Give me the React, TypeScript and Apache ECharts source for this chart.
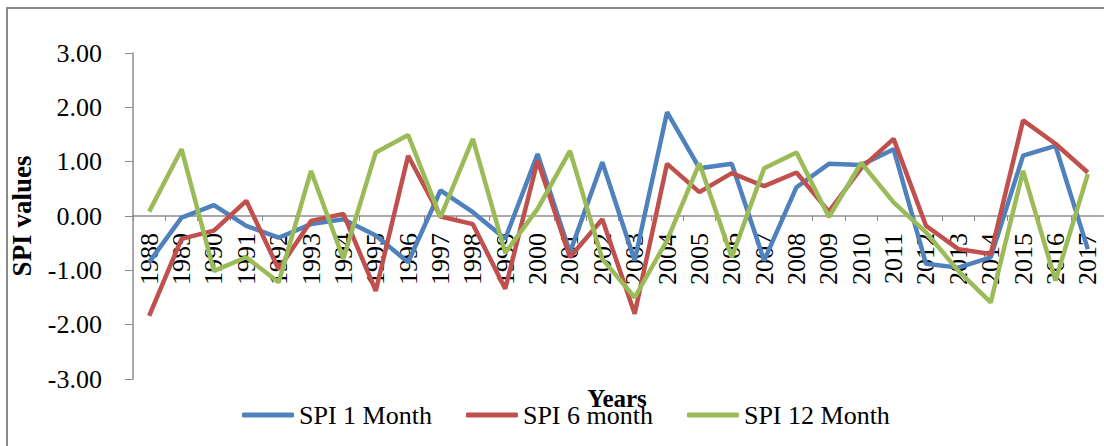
import React, { useEffect, useRef } from "react";
import * as echarts from "echarts";

const years = [
  "1988", "1989", "1990", "1991", "1992", "1993", "1994", "1995", "1996", "1997",
  "1998", "1999", "2000", "2001", "2002", "2003", "2004", "2005", "2006", "2007",
  "2008", "2009", "2010", "2011", "2012", "2013", "2014", "2015", "2016", "2017",
];

const spi1 = [
  -0.85, -0.03, 0.2, -0.18, -0.4, -0.15, -0.06, -0.36, -0.85, 0.47,
  0.07, -0.42, 1.14, -0.67, 0.99, -0.82, 1.91, 0.88, 0.96, -0.82,
  0.53, 0.96, 0.94, 1.23, -0.88, -0.95, -0.76, 1.11, 1.29, -0.61,
];

const spi6 = [
  -1.84, -0.42, -0.27, 0.28, -0.98, -0.09, 0.04, -1.38, 1.11, -0.01,
  -0.15, -1.34, 1.02, -0.76, -0.06, -1.8, 0.96, 0.44, 0.79, 0.55,
  0.8, 0.08, 0.88, 1.42, -0.18, -0.61, -0.7, 1.76, 1.33, 0.8,
];

const spi12 = [
  0.08, 1.23, -1.01, -0.76, -1.22, 0.83, -0.79, 1.17, 1.49, -0.02,
  1.42, -0.68, 0.13, 1.2, -0.79, -1.5, -0.45, 0.97, -0.76, 0.88,
  1.17, -0.02, 0.98, 0.25, -0.3, -1.01, -1.59, 0.83, -1.19, 0.77,
];

const seriesNames = ["SPI 1 Month", "SPI 6 month", "SPI 12 Month"];
const seriesColors = ["#4F81BD", "#C0504D", "#9BBB59"];

const FONT = "'Liberation Serif', serif";

export default function App() {
  const ref = useRef<HTMLDivElement>(null);

  useEffect(() => {
    if (!ref.current) return;
    const chart = echarts.init(ref.current, null, { renderer: "svg" });
    const data = [spi1, spi6, spi12];
    chart.setOption({
      animation: false,
      backgroundColor: "#ffffff",
      textStyle: { fontFamily: FONT },
      grid: { left: 125, right: -3, top: 53, bottom: 67 },
      legend: {
        left: 237,
        top: 397,
        itemWidth: 52,
        itemHeight: 5,
        itemGap: 34,
        icon: "roundRect",
        data: seriesNames,
        textStyle: { fontFamily: FONT, fontSize: 26, fontWeight: "normal", color: "#000" },
      },
      xAxis: {
        type: "category",
        data: years,
        boundaryGap: true,
        position: "bottom",
        offset: -163,
        axisLine: { onZero: false, lineStyle: { color: "#8c8c8c", width: 1.5 } },
        axisTick: { show: true, length: 5, interval: 0, lineStyle: { color: "#8c8c8c" } },
        axisLabel: {
          interval: 0,
          rotate: 90,
          margin: 17,
          fontSize: 26,
          fontFamily: FONT,
          fontWeight: "normal",
          color: "#000",
        },
        splitLine: { show: false },
      },
      yAxis: {
        type: "value",
        min: -3,
        max: 3,
        interval: 1,
        name: "SPI values",
        nameLocation: "middle",
        nameGap: 98,
        nameTextStyle: { fontFamily: FONT, fontSize: 27, fontWeight: "bold", color: "#000" },
        axisLine: { show: true, lineStyle: { color: "#8c8c8c", width: 1.5 } },
        axisTick: { show: true, length: 8, lineStyle: { color: "#8c8c8c" } },
        axisLabel: {
          margin: 31,
          fontSize: 26,
          fontFamily: FONT,
          fontWeight: "normal",
          color: "#000",
          formatter: (v: number) => v.toFixed(2),
        },
        splitLine: { show: false },
      },
      graphic: [
        {
          type: "rect",
          shape: { x: 7, y: 8, width: 1110, height: 450 },
          style: { fill: "none", stroke: "#8c8c8c", lineWidth: 2 },
          silent: true,
          z: -1,
        },
        {
          type: "text",
          x: 617,
          y: 398,
          style: {
            text: "Years",
            fontFamily: FONT,
            fontSize: 25,
            fontWeight: "bold",
            fill: "#000",
            align: "center",
            verticalAlign: "middle",
          },
          z: 10,
        },
      ],
      series: data.map((d, i) => ({
        name: seriesNames[i],
        type: "line",
        data: d,
        symbol: "none",
        color: seriesColors[i],
        lineStyle: { width: 4.5, color: seriesColors[i] },
        z: 3,
      })),
    });
    return () => chart.dispose();
  }, []);

  return (
    <div
      ref={ref}
      style={{ position: "fixed", left: 0, top: 0, width: 1104, height: 446 }}
    />
  );
}
